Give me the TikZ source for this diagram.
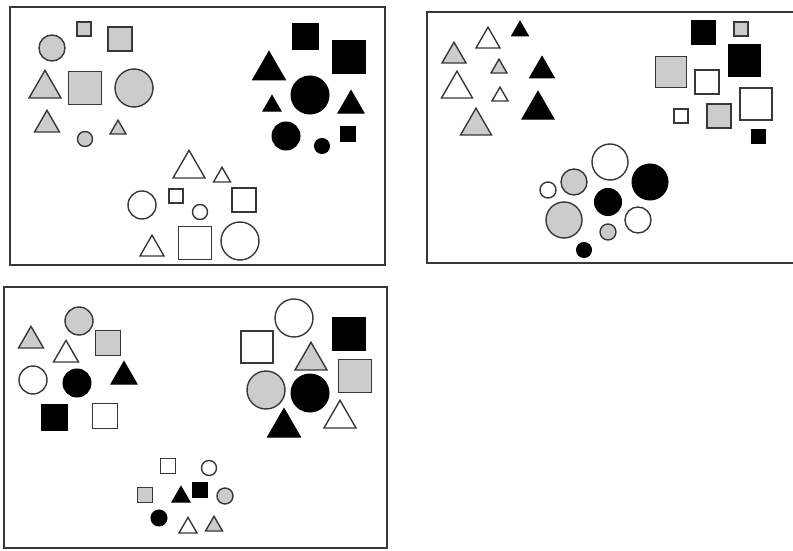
\documentclass[tikz,border=0pt]{standalone}
\usepackage{tikz}

\definecolor{shapegray}{gray}{0.8}
\definecolor{edgegray}{gray}{0.22}

\begin{document}
\begin{tikzpicture}[x=1pt,y=-1pt,
panel/.style={draw=edgegray,line width=1.3pt},
gry/.style={draw=edgegray,line width=1.4pt,fill=shapegray},
wht/.style={draw=edgegray,line width=1.4pt,fill=white},
blk/.style={draw=black,line width=1pt,fill=black}]
\useasboundingbox (0,0) rectangle (793,551);
% frames
\draw[panel] (10,7) rectangle (385,265);
\draw[panel] (793,12) -| (427,263) -- (793,263);
\draw[panel] (4,287) rectangle (387,548);
% squares: centre x / centre y / side / style
\foreach \x/\y/\s/\st in {
  84/29/14/gry, 120/39/24/gry, 85/88/33/gry,
  305/37/26/blk, 349/57/33/blk, 348/134/15/blk,
  176/196/14/wht, 244/200/24/wht, 195/243/33/wht,
  703/33/24/blk, 741/29/14/gry, 744/61/32/blk, 671/72/31/gry,
  707/82/24/wht, 756/104/32/wht, 681/116/14/wht, 719/116/24/gry, 758/136/14/blk,
  108/343/25/gry, 54/417/26/blk, 105/416/25/wht,
  257/347/32/wht, 349/334/33/blk, 355/376/33/gry,
  168/466/15/wht, 145/495/15/gry, 200/490/15/blk}
  \draw[\st] (\x-\s/2,\y-\s/2) rectangle ++(\s,\s);
% circles: centre x / centre y / radius / style
\foreach \x/\y/\r/\st in {
  52/48/13/gry, 134/88/19/gry, 85/139/7.5/gry,
  310/95/19/blk, 286/136/14/blk, 322/146/7.5/blk,
  142/205/14/wht, 200/212/7.5/wht, 240/241/19/wht,
  610/162/18/wht, 650/182/18/blk, 574/182/13/gry, 548/190/8/wht,
  608/202/13.5/blk, 564/220/18/gry, 638/220/13/wht, 608/232/8/gry, 584/250/7.5/blk,
  79/321/14/gry, 33/380/14/wht, 77/383/14/blk,
  294/318/19/wht, 266/390/19/gry, 310/393/19/blk,
  209/468/7.5/wht, 225/496/8/gry, 159/518/8/blk}
  \draw[\st] (\x,\y) circle (\r);
% triangles: centre x / base y / width / style
\foreach \x/\y/\w/\st in {
  45/98/32/gry, 47/132/25/gry, 118/134/16/gry,
  269/80/33/blk, 272/111/18/blk, 351/113/26/blk,
  189/178/32/wht, 222/182/17/wht, 152/256/24/wht,
  488/48/24/wht, 520/36/17/blk, 454/63/24/gry, 499/73/16/gry,
  542/78/25/blk, 457/98/31/wht, 500/101/16/wht, 538/119/32/blk, 476/135/31/gry,
  31/348/25/gry, 66/362/25/wht, 124/384/26/blk,
  311/370/32/gry, 340/428/32/wht, 284/437/33/blk,
  181/502/18/blk, 188/533/18/wht, 214/531/17/gry}
  \draw[\st] (\x-\w/2,\y) -- ++(\w,0) -- ++(-\w/2,-0.866*\w) -- cycle;
\end{tikzpicture}
\end{document}
